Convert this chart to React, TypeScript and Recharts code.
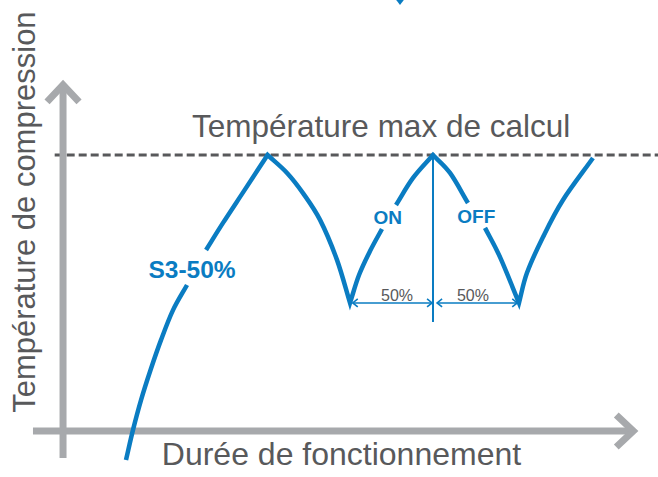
import React from 'react';
import { ComposedChart, Line, Scatter, XAxis, YAxis, ReferenceLine } from 'recharts';

// x = durée de fonctionnement, y = température (100 = température max de calcul)
// the curve is cut where the labels sit on it
const riseLow = [
  { x: 7.54, y: -10.5 }, { x: 8.38, y: 0.4 }, { x: 9.34, y: 11.2 }, { x: 10.48, y: 22.1 },
  { x: 11.74, y: 33 }, { x: 13.17, y: 43.8 }, { x: 14.85, y: 52.9 },
];
const cycle1 = [
  { x: 17.13, y: 65.6 }, { x: 19.16, y: 75.4 }, { x: 21.68, y: 87 }, { x: 24.5, y: 100 },
  { x: 26.83, y: 93.5 }, { x: 28.74, y: 86.2 }, { x: 30.78, y: 76.5 }, { x: 32.81, y: 62 },
  { x: 34.37, y: 46.4 }, { x: 35.45, y: 56.5 }, { x: 36.77, y: 65.2 }, { x: 38.2, y: 73.2 },
];
const cycle2 = [
  { x: 39.88, y: 81.9 }, { x: 41.92, y: 91.7 }, { x: 44.31, y: 100 },
  { x: 46.35, y: 93.5 }, { x: 48.5, y: 82.6 },
];
const cycle3 = [
  { x: 50.54, y: 73.6 }, { x: 52.34, y: 63 }, { x: 54.61, y: 46.4 },
  { x: 55.57, y: 57.3 }, { x: 57.49, y: 70.3 }, { x: 59.88, y: 83.7 }, { x: 63.47, y: 98.9 },
];

const tMax = 100;
const peakX = 44.31;
const troughY = 46.4;
const onOffSpans = [
  [{ x: 34.7, y: troughY }, { x: 44.2, y: troughY }],
  [{ x: 44.8, y: troughY }, { x: 54.4, y: troughY }],
];

const titles = [{ x: 38.1, y: 106.5, text: 'Température max de calcul' }];
const xTitle = [{ x: 33.35, y: -12.3, text: 'Durée de fonctionnement' }];
const yTitle = [{ x: -3.4, y: 79.3, text: 'Température de compression' }];
const seriesLabel = [{ x: 15.45, y: 55.4, text: 'S3-50%' }];
const phaseLabels = [
  { x: 38.9, y: 75, text: 'ON' },
  { x: 49.5, y: 75.2, text: 'OFF' },
];
const shareLabels = [
  { x: 40.0, y: 47.1, text: '50%' },
  { x: 49.1, y: 47.1, text: '50%' },
];
const topMark = [{ x: 40.36, y: 156.2 }];

const BLUE = '#0a7cc2';
const AXIS_GREY = '#a7a9ac';
const DARK = '#58595b';
const FONT = '"Liberation Sans", Arial, sans-serif';

// smooth between points, but keep a sharp corner at each peak / trough
const cornerCurve = (context: any) => {
  let pts: number[][] = [];
  const smooth = (seg: number[][]) => {
    const n = seg.length;
    if (n < 2) return;
    const tan = seg.map((p, i) => {
      const a = seg[Math.max(i - 1, 0)];
      const b = seg[Math.min(i + 1, n - 1)];
      const k = i === 0 || i === n - 1 ? 1 : 0.5;
      return [(b[0] - a[0]) * k, (b[1] - a[1]) * k];
    });
    for (let i = 0; i < n - 1; i++) {
      const p = seg[i];
      const q = seg[i + 1];
      context.bezierCurveTo(
        p[0] + tan[i][0] / 3, p[1] + tan[i][1] / 3,
        q[0] - tan[i + 1][0] / 3, q[1] - tan[i + 1][1] / 3,
        q[0], q[1],
      );
    }
  };
  return {
    areaStart() {},
    areaEnd() {},
    lineStart() { pts = []; },
    point(x: number, y: number) { pts.push([+x, +y]); },
    lineEnd() {
      if (!pts.length) return;
      const cuts = [0];
      for (let i = 1; i < pts.length - 1; i++) {
        const a = pts[i][1] - pts[i - 1][1];
        const b = pts[i + 1][1] - pts[i][1];
        if (a * b < 0) cuts.push(i);
      }
      cuts.push(pts.length - 1);
      context.moveTo(pts[0][0], pts[0][1]);
      for (let k = 0; k < cuts.length - 1; k++) smooth(pts.slice(cuts[k], cuts[k + 1] + 1));
    },
  };
};

const AxisArrow = (props: any) => {
  const { x1, y1, x2, y2 } = props;
  const len = Math.hypot(x2 - x1, y2 - y1);
  const ux = (x2 - x1) / len;
  const uy = (y2 - y1) / len;
  const nx = -uy;
  const ny = ux;
  const back = 17;
  const wing = 16;
  return (
    <g>
      <line x1={x1} y1={y1} x2={x2 - ux * 3} y2={y2 - uy * 3} stroke={AXIS_GREY} strokeWidth={7} />
      <path
        d={`M${x2 - ux * back + nx * wing},${y2 - uy * back + ny * wing}L${x2},${y2}L${x2 - ux * back - nx * wing},${y2 - uy * back - ny * wing}`}
        fill="none"
        stroke={AXIS_GREY}
        strokeWidth={7}
      />
    </g>
  );
};

const SpanArrow = (props: any) => {
  const { x1, y1, x2, y2 } = props;
  const h = 5;
  const w = 4;
  return (
    <g stroke={BLUE} strokeWidth={1.6} fill="none">
      <line x1={x1} y1={y1} x2={x2} y2={y2} />
      <path d={`M${x1 + h},${y1 - w}L${x1},${y1}L${x1 + h},${y1 + w}`} />
      <path d={`M${x2 - h},${y2 - w}L${x2},${y2}L${x2 - h},${y2 + w}`} />
    </g>
  );
};

const textShape = (size: number, fill: string, weight = 'normal', rotate = false) => (p: any) => (
  <text
    x={p.cx}
    y={p.cy}
    textAnchor="middle"
    fontSize={size}
    fontWeight={weight}
    fill={fill}
    fontFamily={FONT}
    transform={rotate ? `rotate(-90 ${p.cx} ${p.cy})` : undefined}
  >
    {p.payload.text}
  </text>
);

const TopMark = (p: any) => (
  <path d={`M${p.cx - 7},${p.cy - 4}L${p.cx + 7},${p.cy - 4}L${p.cx},${p.cy + 5}Z`} fill={BLUE} />
);

const lineProps = {
  dataKey: 'y',
  type: cornerCurve as any,
  stroke: BLUE,
  strokeWidth: 4.5,
  strokeLinejoin: 'miter' as const,
  dot: false,
  activeDot: false,
  isAnimationActive: false,
};

export default function App() {
  return (
    <div style={{ width: 658, height: 477, background: '#fff' }}>
      <style>{'body{margin:0}'}</style>
      <ComposedChart width={658} height={477} margin={{ top: 0, right: 0, bottom: 0, left: 0 }}>
        <XAxis type="number" dataKey="x" domain={[-7.55, 71.26]} allowDataOverflow hide />
        <YAxis type="number" dataKey="y" domain={[-16.67, 156.16]} allowDataOverflow hide />

        <ReferenceLine
          segment={[{ x: -1, y: tMax }, { x: 72, y: tMax }]}
          stroke={DARK}
          strokeWidth={3}
          strokeDasharray="8 4"
          ifOverflow="visible"
        />
        <ReferenceLine segment={[{ x: -3.6, y: 0 }, { x: 68.3, y: 0 }]} shape={AxisArrow} ifOverflow="visible" />
        <ReferenceLine segment={[{ x: 0, y: -9.8 }, { x: 0, y: 125.4 }]} shape={AxisArrow} ifOverflow="visible" />

        <ReferenceLine
          segment={[{ x: peakX, y: 39.5 }, { x: peakX, y: tMax }]}
          stroke={BLUE}
          strokeWidth={2}
          ifOverflow="visible"
        />
        {onOffSpans.map((s, i) => (
          <ReferenceLine key={i} segment={s} shape={SpanArrow} ifOverflow="visible" />
        ))}

        <Line data={riseLow} {...lineProps} />
        <Line data={cycle1} {...lineProps} />
        <Line data={cycle2} {...lineProps} />
        <Line data={cycle3} {...lineProps} />

        <Scatter data={titles} shape={textShape(31.5, DARK)} isAnimationActive={false} />
        <Scatter data={xTitle} shape={textShape(32, DARK)} isAnimationActive={false} />
        <Scatter data={yTitle} shape={textShape(31, DARK, 'normal', true)} isAnimationActive={false} />
        <Scatter data={seriesLabel} shape={textShape(24.5, BLUE, 'bold')} isAnimationActive={false} />
        <Scatter data={phaseLabels} shape={textShape(19, BLUE, 'bold')} isAnimationActive={false} />
        <Scatter data={shareLabels} shape={textShape(16, DARK)} isAnimationActive={false} />
        <Scatter data={topMark} shape={TopMark} isAnimationActive={false} />
      </ComposedChart>
    </div>
  );
}
